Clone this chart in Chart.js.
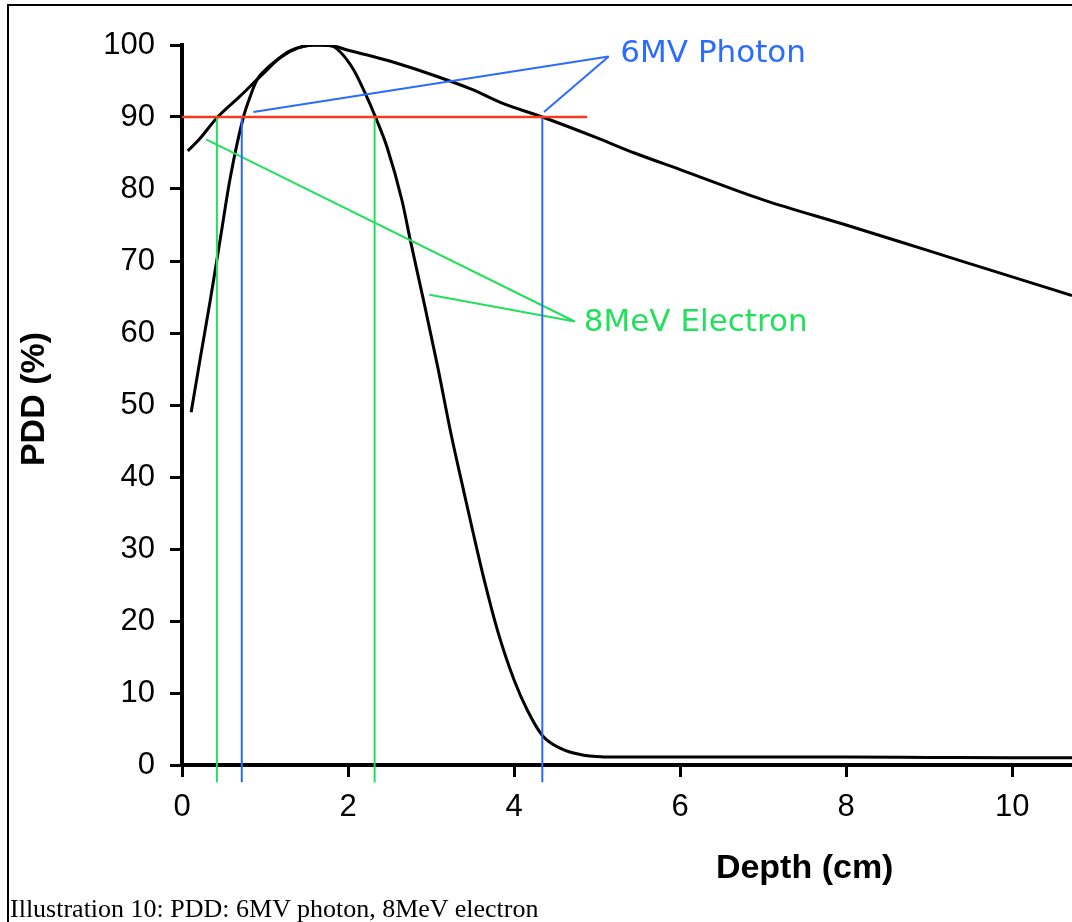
<!DOCTYPE html>
<html>
<head>
<meta charset="utf-8">
<script src="https://cdn.jsdelivr.net/npm/chart.js@4.4.1/dist/chart.umd.min.js"></script>
<style>
html,body{margin:0;padding:0;background:#fff;overflow:hidden;width:1072px;height:922px}
#frame{position:absolute;left:7px;top:4px;width:2000px;height:2000px;border:2px solid #000;box-sizing:border-box}
#chart{position:absolute;left:0;top:0}
#caption{position:absolute;left:10px;top:896px;font-family:"Liberation Serif","Times New Roman",serif;font-size:26px;line-height:26px;color:#000;white-space:nowrap}
</style>
</head>
<body>
<div id="frame"></div>
<canvas id="chart" width="1072" height="922"></canvas>
<div id="caption">Illustration 10: PDD: 6MV photon, 8MeV electron</div>
<script>
// ---- data ----
const depthElectron = [0.07, 0.2, 0.43, 0.7, 0.94, 1.19, 1.4, 1.58, 1.8, 1.91, 2.07, 2.21, 2.33, 2.47, 2.65, 2.75, 2.91, 3.08, 3.24, 3.40, 3.50, 3.64, 3.80, 4.00, 4.16, 4.34, 4.56, 4.84, 5.2, 6, 7, 8, 9, 10, 10.72];
const pddElectron   = [85.3, 86.8, 90, 92.9, 95.6, 98.3, 99.6, 100, 99.9, 99.0, 96.5, 93.2, 90, 85.8, 78.4, 72.9, 64.5, 55.3, 46.0, 37.7, 32.6, 25.7, 18.7, 11.8, 7.6, 4.1, 2.3, 1.35, 1.1, 1.1, 1.1, 1.1, 1.05, 1.0, 1.0];

const depthPhoton = [0.11, 0.22, 0.34, 0.46, 0.58, 0.74, 0.82, 0.90, 1.0, 1.15, 1.3, 1.5, 1.65, 1.85, 1.99, 2.3, 2.55, 3.03, 3.5, 3.84, 4.34, 5.0, 5.45, 6.0, 7.0, 8.0, 9.0, 10.0, 10.72];
const pddPhoton   = [49.0, 56.5, 64.5, 73.0, 81.5, 90, 92.8, 95.1, 96.5, 98.0, 99.2, 99.9, 100, 99.8, 99.3, 98.4, 97.6, 95.8, 93.8, 92.0, 90, 87.1, 85.0, 82.7, 78.5, 75.0, 71.4, 67.8, 65.2];

const xTicks = [0, 2, 4, 6, 8, 10];
const yTicks = [0, 10, 20, 30, 40, 50, 60, 70, 80, 90, 100];
const xRange = [0, 10.72];
const yRange = [0, 100];

const refLevel = 90;
const refLineDepths = [0, 4.88];
const electronMarks = [0.42, 2.32];
const photonMarks = [0.72, 4.34];
const markBottom = -2.4;

const photonLabel = '6MV Photon';
const photonCalloutTip = [5.14, 98.4];
const photonCalloutFrom = [[0.86, 90.7], [4.36, 90.7]];
const photonLabelAt = [5.28, 98.8];

const electronLabel = '8MeV Electron';
const electronCalloutTip = [4.73, 61.6];
const electronCalloutFrom = [[0.29, 86.9], [2.98, 65.3]];
const electronLabelAt = [4.84, 61.4];

const xTitle = 'Depth (cm)';
const yTitle = 'PDD (%)';
const xTitleAt = 7.5;

// ---- styles ----
const BLUE = '#2b6bff', GREEN = '#22e05c', RED = '#f23c1c';

const toPts = (xs, ys) => xs.map((v, i) => ({x: v, y: ys[i]}));
const seg = (a, b) => [{x: a[0], y: a[1]}, {x: b[0], y: b[1]}];
const annot = (data, color, w) => ({data, borderColor: color, borderWidth: w, pointRadius: 0, tension: 0, clip: false, fill: false});

const datasets = [];
datasets.push(annot(refLineDepths.map(d => ({x: d, y: refLevel})), RED, 2.5));
photonMarks.forEach(d => datasets.push(annot([{x: d, y: refLevel}, {x: d, y: markBottom}], BLUE, 2)));
electronMarks.forEach(d => datasets.push(annot([{x: d, y: refLevel}, {x: d, y: markBottom}], GREEN, 2)));
photonCalloutFrom.forEach(p => datasets.push(annot(seg(p, photonCalloutTip), BLUE, 2)));
electronCalloutFrom.forEach(p => datasets.push(annot(seg(p, electronCalloutTip), GREEN, 2)));
datasets.push({data: toPts(depthElectron, pddElectron), borderColor: '#000', borderWidth: 3, pointRadius: 0, cubicInterpolationMode: 'monotone', fill: false});
datasets.push({data: toPts(depthPhoton, pddPhoton), borderColor: '#000', borderWidth: 3, pointRadius: 0, cubicInterpolationMode: 'monotone', fill: false});

const textPlugin = {
  id: 'texts',
  afterDatasetsDraw(chart) {
    const {ctx, chartArea} = chart;
    const x = chart.scales.x, y = chart.scales.y;
    ctx.save();
    ctx.textAlign = 'left';
    ctx.textBaseline = 'middle';
    ctx.font = '31px "DejaVu Sans"';
    ctx.fillStyle = BLUE;
    ctx.fillText(photonLabel, x.getPixelForValue(photonLabelAt[0]), y.getPixelForValue(photonLabelAt[1]));
    ctx.fillStyle = GREEN;
    ctx.fillText(electronLabel, x.getPixelForValue(electronLabelAt[0]), y.getPixelForValue(electronLabelAt[1]));
    ctx.fillStyle = '#000';
    ctx.font = 'bold 34px "Liberation Sans"';
    ctx.textAlign = 'center';
    ctx.textBaseline = 'alphabetic';
    ctx.fillText(xTitle, x.getPixelForValue(xTitleAt), chartArea.bottom + 113);
    ctx.translate(44, (chartArea.top + chartArea.bottom) / 2 - 6);
    ctx.rotate(-Math.PI / 2);
    ctx.fillText(yTitle, 0, 0);
    ctx.restore();
  }
};

new Chart(document.getElementById('chart'), {
  type: 'line',
  data: {datasets},
  options: {
    responsive: false,
    animation: false,
    parsing: true,
    layout: {padding: {left: 0, top: 45, right: 0, bottom: 0}},
    plugins: {legend: {display: false}, tooltip: {enabled: false}, title: {display: false}},
    scales: {
      x: {
        type: 'linear', min: xRange[0], max: xRange[1],
        afterBuildTicks: s => { s.ticks = xTicks.map(v => ({value: v})); },
        afterFit: s => { s.height = 157; },
        border: {display: true, color: '#000', width: 4},
        grid: {display: true, drawOnChartArea: false, drawTicks: true, tickLength: 12, lineWidth: 3, color: '#000'},
        ticks: {color: '#000', font: {family: 'Liberation Sans', size: 31}, padding: 12, maxRotation: 0, autoSkip: false}
      },
      y: {
        type: 'linear', min: yRange[0], max: yRange[1],
        afterBuildTicks: s => { s.ticks = yTicks.map(v => ({value: v})); },
        afterFit: s => { s.width = 182; },
        border: {display: true, color: '#000', width: 4},
        grid: {display: true, drawOnChartArea: false, drawTicks: true, tickLength: 12, lineWidth: 3, color: '#000'},
        ticks: {color: '#000', font: {family: 'Liberation Sans', size: 31}, padding: 15, autoSkip: false}
      }
    }
  },
  plugins: [textPlugin]
});
</script>
</body>
</html>
